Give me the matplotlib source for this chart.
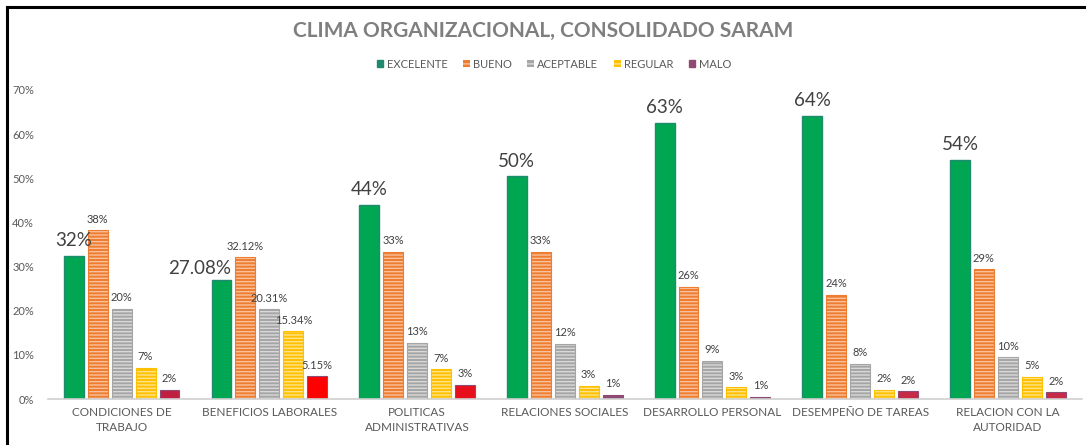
import numpy as np
import matplotlib
matplotlib.use('Agg')
import matplotlib.pyplot as plt
from matplotlib.patches import Patch
from matplotlib.lines import Line2D

plt.rcParams['font.family'] = ['Lato', 'DejaVu Sans']
plt.rcParams['hatch.linewidth'] = 1.0

categories = ['CONDICIONES DE\nTRABAJO', 'BENEFICIOS LABORALES', 'POLITICAS\nADMINISTRATIVAS',
              'RELACIONES SOCIALES', 'DESARROLLO PERSONAL', 'DESEMPEÑO DE TAREAS',
              'RELACION CON LA\nAUTORIDAD']
series = ['EXCELENTE', 'BUENO', 'ACEPTABLE', 'REGULAR', 'MALO']

excelente = [32.4, 27.08, 43.9, 50.4, 62.6, 64.2, 54.1]
bueno = [38.2, 32.12, 33.3, 33.3, 25.5, 23.6, 29.4]
aceptable = [20.4, 20.31, 12.8, 12.5, 8.7, 8.0, 9.5]
regular = [7.1, 15.34, 6.8, 3.0, 2.7, 2.1, 5.1]
malo = [2.1, 5.15, 3.2, 1.0, 0.6, 1.8, 1.6]

# decimals shown in the data labels of each category
decimals = [0, 2, 0, 0, 0, 0, 0]

values = [excelente, bueno, aceptable, regular, malo]

fill_dark = ['#00A651', '#ED7D31', '#A5A5A5', '#FFC000', None]
fill_light = [None, '#F9C09A', '#D9D9D9', '#FFE38A', None]
edge_cols = ['#1F8A70', '#ED7D31', '#A5A5A5', '#FFC000', None]
malo_cols = ['#C0203F', '#FF0000', '#E8101C', '#8E4A73', '#8E4A73', '#C62A47', '#C62A47']
legend_cols = ['#1F8A70', '#ED7D31', '#A5A5A5', '#FFC000', '#8E4A73']

fig = plt.figure(figsize=(10.86, 4.45), dpi=100)
ax = fig.add_axes([0.044, 0.103, 0.952, 0.695])

x = np.arange(len(categories))
step = 0.162
width = 0.135

for i, vals in enumerate(values):
    xs = x + (i - 2) * step
    if i == 0:
        ax.bar(xs, vals, width, color=fill_dark[i], edgecolor=edge_cols[i], linewidth=1.0)
    elif i == 4:
        ax.bar(xs, vals, width, color=malo_cols, edgecolor='#8E4A73', linewidth=0.8)
    else:
        ax.bar(xs, vals, width, color=fill_dark[i], edgecolor=fill_light[i],
               linewidth=0, hatch='-----')
        ax.bar(xs, vals, width, fill=False, edgecolor=edge_cols[i], linewidth=0.8)
    for j, (xx, v) in enumerate(zip(xs, vals)):
        txt = f'{v:.{decimals[j]}f}%'
        if i == 0:
            if j == 1:
                ax.annotate(txt, (xx + width / 2, v), xytext=(0, 2), textcoords='offset points',
                            ha='right', va='bottom', fontsize=13.5, color='#404040')
            else:
                ax.annotate(txt, (xx, v), xytext=(0, 5), textcoords='offset points',
                            ha='center', va='bottom', fontsize=13.5, color='#404040')
        else:
            ax.annotate(txt, (xx, v), xytext=(0, 4), textcoords='offset points',
                        ha='center', va='bottom', fontsize=8, color='#404040')

ax.set_xlim(-0.5, len(categories) - 0.5)
ax.set_ylim(0, 70)
ax.set_yticks(np.arange(0, 71, 10))
ax.set_yticklabels([f'{t}%' for t in range(0, 71, 10)], fontsize=8, color='#595959')
ax.set_xticks(x)
ax.set_xticklabels(categories, fontsize=8.5, color='#595959', linespacing=1.35)
ax.tick_params(axis='both', length=0)
ax.tick_params(axis='y', pad=10)
ax.tick_params(axis='x', pad=6)
for s in ['top', 'right', 'left']:
    ax.spines[s].set_visible(False)
ax.spines['bottom'].set_color('#D0D0D0')
ax.spines['bottom'].set_linewidth(1.2)

fig.text(0.5, 0.93, 'CLIMA ORGANIZACIONAL, CONSOLIDADO SARAM', ha='center', va='center',
         fontsize=15, fontweight='bold', color='#7F7F7F')

handles = []
for i, name in enumerate(series):
    if i in (1, 2, 3):
        handles.append(Patch(facecolor=fill_dark[i], edgecolor=fill_light[i], linewidth=0,
                             hatch='---', label=name))
    else:
        handles.append(Patch(facecolor=legend_cols[i], edgecolor=legend_cols[i], label=name))
fig.legend(handles=handles, loc='center', bbox_to_anchor=(0.51, 0.856), ncol=5, frameon=False,
           fontsize=8, labelcolor='#595959', handlelength=0.6, handleheight=0.6,
           handletextpad=0.3, columnspacing=1.4)

# outer frame (left and top only)
fig.add_artist(Line2D([0.006, 0.006], [0.0, 0.984], transform=fig.transFigure,
                      color='black', linewidth=2.2))
fig.add_artist(Line2D([0.006, 1.0], [0.984, 0.984], transform=fig.transFigure,
                      color='black', linewidth=2.2))

fig.savefig('out.png', dpi=100)
